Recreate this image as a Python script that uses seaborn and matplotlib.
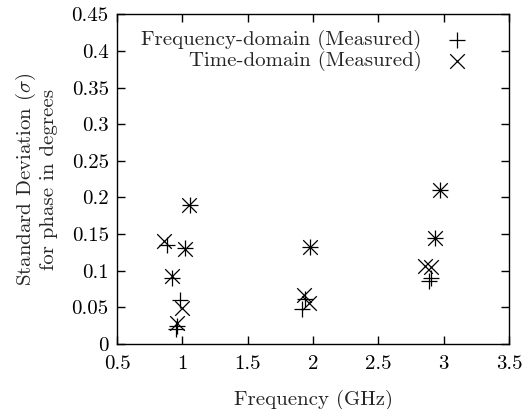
import matplotlib

matplotlib.use("Agg")

import matplotlib.pyplot as plt
import pandas as pd
import seaborn as sns

# Frequency-domain (Measured) points
freq_fd = [0.88, 0.92, 0.985, 0.953, 0.96, 1.02, 1.055, 1.915, 1.94, 1.98, 2.885, 2.9, 2.935, 2.97]
sigma_fd = [0.135, 0.09, 0.06, 0.02, 0.025, 0.131, 0.19, 0.048, 0.062, 0.133, 0.0855, 0.09, 0.145, 0.21]

# Time-domain (Measured) points
freq_td = [0.857, 0.92, 0.997, 0.96, 1.02, 1.053, 1.928, 1.966, 1.98, 2.859, 2.9, 2.935, 2.97]
sigma_td = [0.14, 0.093, 0.049, 0.029, 0.13, 0.19, 0.067, 0.056, 0.133, 0.106, 0.105, 0.145, 0.21]

x_ticks = [0.5, 1, 1.5, 2, 2.5, 3, 3.5]
y_ticks = [0, 0.05, 0.1, 0.15, 0.2, 0.25, 0.3, 0.35, 0.4, 0.45]


def setup_style() -> None:
    sns.set_theme(style="ticks")
    plt.rcParams["font.family"] = ["cmr10", "DejaVu Serif"]
    plt.rcParams["mathtext.fontset"] = "cm"
    plt.rcParams["axes.formatter.use_mathtext"] = True
    plt.rcParams["axes.unicode_minus"] = False


def main() -> None:
    setup_style()
    fd = pd.DataFrame({"freq": freq_fd, "sigma": sigma_fd})
    td = pd.DataFrame({"freq": freq_td, "sigma": sigma_td})

    fig = plt.figure(figsize=(5.32, 4.09), dpi=100)
    ax = fig.add_axes([0.22, 0.159, 0.737, 0.806])

    sns.scatterplot(data=fd, x="freq", y="sigma", marker="+", s=130, color="black",
                    linewidth=0.9, ax=ax, label="Frequency-domain (Measured)")
    sns.scatterplot(data=td, x="freq", y="sigma", marker="x", s=110, color="black",
                    linewidth=0.9, ax=ax, label="Time-domain (Measured)")

    ax.set_xlim(0.5, 3.5)
    ax.set_ylim(0, 0.45)
    ax.set_xticks(x_ticks)
    ax.set_yticks(y_ticks)
    ax.set_xticklabels([f"{t:g}" for t in x_ticks])
    ax.set_yticklabels([f"{t:g}" for t in y_ticks])
    ax.tick_params(direction="in", length=6, width=1.0, top=True, right=True,
                   labelsize=15, colors="black")
    ax.tick_params(axis="x", pad=8)
    ax.tick_params(axis="y", pad=6)
    for spine in ax.spines.values():
        spine.set_visible(True)
        spine.set_linewidth(1.0)
        spine.set_color("black")

    ax.set_xlabel("Frequency (GHz)", fontsize=15, labelpad=12)
    ax.set_ylabel("Standard Deviation ($\\sigma$)\nfor phase in degrees", fontsize=15,
                  labelpad=10, linespacing=1.1)

    ax.legend(loc="upper right", frameon=False, markerfirst=False, fontsize=15,
              handletextpad=1.2, borderaxespad=0.2, labelspacing=0.05,
              handlelength=1.0, bbox_to_anchor=(0.925, 0.99))

    fig.savefig("out.png", dpi=100)
    plt.close(fig)


if __name__ == "__main__":
    main()
